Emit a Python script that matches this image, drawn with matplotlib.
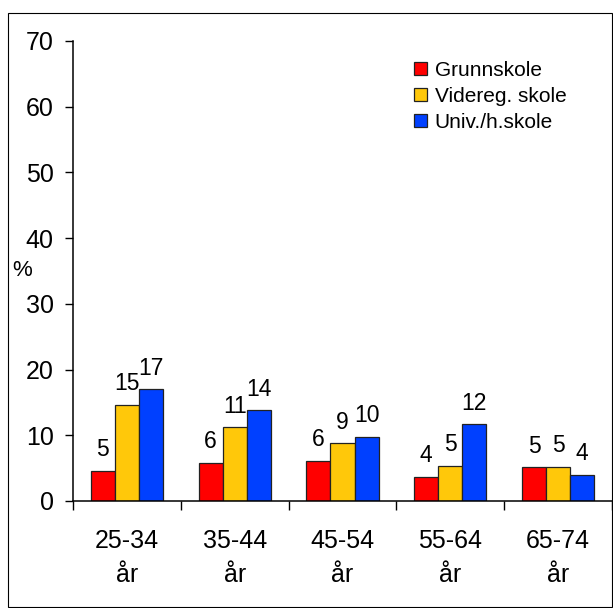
import matplotlib
matplotlib.use("Agg")
import matplotlib.pyplot as plt
from matplotlib.patches import Rectangle
from matplotlib.ticker import FixedLocator, NullFormatter
import numpy as np

# Share (%) by age group and education level
age_groups = ["25-34\når", "35-44\når", "45-54\når", "55-64\når", "65-74\når"]
grunnskole = [4.6, 5.8, 6.1, 3.7, 5.1]
videreg_skole = [14.6, 11.2, 8.8, 5.4, 5.2]
univ_hskole = [17.0, 13.8, 9.8, 11.7, 4.0]
series_names = ["Grunnskole", "Videreg. skole", "Univ./h.skole"]
series_colors = ["#FF0000", "#FFC80A", "#0040FF"]
y_ticks = [0, 10, 20, 30, 40, 50, 60, 70]

plt.rcParams["font.family"] = ["Liberation Sans", "DejaVu Sans"]

W, H = 613, 608
fig = plt.figure(figsize=(W / 100, H / 100), dpi=100)
ax = fig.add_axes([73 / W, (H - 501) / H, (612 - 73) / W, (501 - 41) / H])

x = np.arange(len(age_groups))
bar_w = 0.223
series = [grunnskole, videreg_skole, univ_hskole]
for i, (vals, name, col) in enumerate(zip(series, series_names, series_colors)):
    pos = x + (i - 1) * bar_w
    ax.bar(pos, vals, width=bar_w, color=col, edgecolor="#222222",
           linewidth=0.9, label=name, zorder=2)
    for px, v in zip(pos, vals):
        ax.annotate(f"{v:.0f}", (px, v), xytext=(0, 10.5),
                    textcoords="offset points", ha="center", va="baseline",
                    fontsize=16.5)

ax.set_xlim(-0.5, len(age_groups) - 0.5)
ax.set_ylim(0, 70)

ax.set_yticks(y_ticks)
ax.tick_params(axis="y", direction="out", length=5.8, width=1, pad=8,
               labelsize=18)

ax.set_xticks(x)
ax.set_xticklabels(age_groups, linespacing=1.52)
ax.tick_params(axis="x", which="major", length=0, pad=20, labelsize=18)
ax.xaxis.set_minor_locator(FixedLocator(np.arange(-0.5, len(age_groups), 1.0)))
ax.xaxis.set_minor_formatter(NullFormatter())
ax.tick_params(axis="x", which="minor", direction="out", length=6.5, width=1)

for s in ["top", "right"]:
    ax.spines[s].set_visible(False)
for s in ["left", "bottom"]:
    ax.spines[s].set_linewidth(1.1)
    ax.spines[s].set_color("black")

fig.text(12 / W, 1 - 270 / H, "%", ha="left", va="center", fontsize=16)

ax.legend(loc="upper left", bbox_to_anchor=(414 / W, 1 - 61 / H),
          bbox_transform=fig.transFigure, frameon=False, fontsize=15,
          handlelength=0.6, handleheight=0.6, handletextpad=0.4,
          labelspacing=0.33, borderpad=0, borderaxespad=0)

# Frame around the whole chart
fig.patches.append(Rectangle((8 / W, 1.5 / H), (611.5 - 8) / W, (H - 12.5 - 1.5) / H,
                             transform=fig.transFigure, fill=False,
                             edgecolor="black", linewidth=0.8))

fig.savefig("out.png", dpi=100)
